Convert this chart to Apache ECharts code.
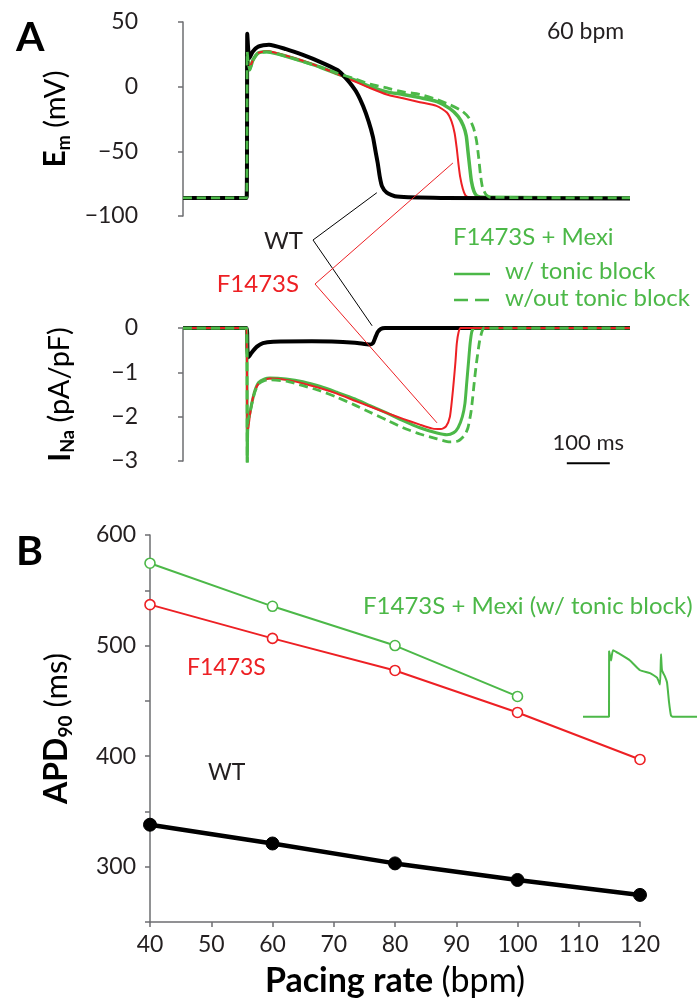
<!DOCTYPE html>
<html>
<head>
<meta charset="utf-8">
<script src="https://cdn.jsdelivr.net/npm/echarts/dist/echarts.min.js"></script>
<style>
  html, body { margin: 0; padding: 0; background: #fff; }
  #chart { width: 699px; height: 1002px; }
</style>
</head>
<body>
<div id="chart"></div>
<script>
// ---- Panel A: membrane potential traces, [time (ms), Em (mV)] at 60 bpm ----
const emWT = [[0,-86],[148,-86],[149.5,41],[151.5,30],[154,22],[162,27],[175,31],[200,32.5],[240,29],[279,24.5],[320,19],[358,13],[372,9],[388,3],[405,-5],[419,-15],[432,-27],[442,-39],[448,-50],[453,-59],[458,-70],[463,-77],[474,-82],[498,-85],[600,-86],[1040,-86.5]];
const emF1473S = [[0,-86],[148,-86],[149.5,27],[152,18],[155,15],[162,20],[175,26],[195,27.5],[240,24],[279,20],[320,15],[358,10],[400,4],[435,-1],[474,-6],[512,-9],[551,-12],[591,-15],[614,-20],[625,-27],[632,-36],[637,-48],[641,-60],[645,-70],[651,-79],[657,-84],[665,-85.5],[720,-86],[1040,-86]];
const emMexiTonic = [[0,-86],[148,-86],[149.5,27],[152,18],[155,13],[162,20],[175,26],[195,27],[240,23.5],[279,19.5],[320,15],[358,10],[400,5],[435,0],[474,-4],[512,-6],[551,-8.5],[591,-11.5],[621,-17],[640,-23],[652,-30],[659,-38],[663,-50],[667,-62],[671,-73],[677,-81],[684,-84.5],[700,-85.5],[1040,-86]];
const emMexiNoTonic = [[0,-86],[148,-86],[149.5,27],[152,18],[155,13],[162,20],[175,26],[195,27],[240,23.5],[279,19.5],[320,15],[358,10.5],[400,6],[435,2],[474,-1],[512,-4],[551,-6],[591,-10],[621,-14],[650,-19],[665,-24],[676,-32],[683,-42],[688,-55],[692,-68],[697,-78],[705,-83.5],[715,-85.5],[1040,-86]];

// ---- Panel A: sodium current traces, [time (ms), INa (pA/pF)] ----
const inaWT = [[0,0],[148,0],[150,-0.5],[152,-0.66],[160,-0.55],[172,-0.42],[186,-0.34],[210,-0.31],[300,-0.30],[400,-0.33],[435,-0.37],[442,-0.34],[448,-0.2],[453,-0.09],[460,-0.02],[470,0],[1040,0]];
const inaF1473S = [[0,0],[148,0],[149.5,-2.3],[152,-2.25],[156,-1.95],[162,-1.6],[170,-1.35],[180,-1.22],[202,-1.14],[240,-1.17],[279,-1.25],[320,-1.36],[358,-1.48],[400,-1.64],[435,-1.77],[475,-1.92],[512,-2.05],[551,-2.18],[581,-2.27],[600,-2.28],[612,-2.22],[621,-2.0],[626,-1.6],[630,-1.2],[634,-0.75],[637,-0.35],[641,-0.1],[646,0],[1040,0]];
const inaMexiTonic = [[0,0],[148,0],[149.5,-3.05],[151,-2.1],[155,-1.95],[160,-1.7],[167,-1.42],[176,-1.23],[190,-1.15],[202,-1.13],[240,-1.15],[279,-1.21],[320,-1.32],[358,-1.45],[400,-1.6],[435,-1.75],[475,-1.92],[512,-2.09],[551,-2.25],[591,-2.37],[614,-2.41],[630,-2.36],[640,-2.25],[650,-2.0],[656,-1.7],[660,-1.25],[664,-0.8],[668,-0.35],[672,-0.08],[677,0],[1040,0]];
const inaMexiNoTonic = [[0,0],[148,0],[149.5,-3.05],[151,-2.1],[155,-1.95],[160,-1.72],[167,-1.45],[176,-1.26],[190,-1.18],[202,-1.17],[240,-1.2],[279,-1.3],[320,-1.42],[358,-1.56],[400,-1.74],[435,-1.9],[475,-2.08],[512,-2.25],[551,-2.39],[591,-2.5],[621,-2.57],[640,-2.55],[655,-2.42],[663,-2.25],[670,-1.9],[674,-1.57],[679,-1.1],[684,-0.7],[690,-0.3],[695,-0.1],[700,0],[1040,0]];

// ---- Panel B: APD90 (ms) against pacing rate (bpm) ----
const pacingRates = [40, 60, 80, 100, 120];
const apdWT = [338, 321, 303, 288, 274.5];
const apdF1473S = [537, 506.5, 477.5, 439.5, 397];
const apdMexiTonic = [574.5, 535.5, 500, 454];

// Example action potential with early afterdepolarization, [time (ms), Em (mV)]
const insetTrace = [[0,-86],[208,-86],[209,28],[224,12],[240,30],[296,23],[376,12],[456,-5],[536,-10],[592,-18],[616,-30],[624,23],[632,-5],[656,-16],[672,-26],[688,-60],[704,-84],[720,-86],[912,-86]];

const emTicks = [-100, -50, 0, 50];
const inaTicks = [-3, -2, -1, 0];

const FONT = 'Lato';
const GREEN = '#4cb848';
const RED = '#ed2024';
const AXIS = '#6d6e71';
const TXT = '#231f20';

const chart = echarts.init(document.getElementById('chart'), null, { renderer: 'canvas' });

function trace(name, data, xi, color, width, dashed, z) {
  return {
    name, type: 'line', xAxisIndex: xi, yAxisIndex: xi, data,
    showSymbol: false, smooth: 0.2, z,
    lineStyle: { color, width, type: dashed ? [9, 5] : 'solid', cap: 'butt', join: 'round' },
    emphasis: { disabled: true }, animation: false
  };
}

function timeAxis(gi) {
  return { gridIndex: gi, type: 'value', min: 0, max: 1040, show: false };
}

const subRich = (big, small, plain) => ({
  b: { fontFamily: FONT, fontWeight: 'bold', fontSize: big, color: '#000', lineHeight: big + 6, verticalAlign: 'middle' },
  s: { fontFamily: FONT, fontWeight: 'bold', fontSize: small, color: '#000', lineHeight: big + 6, verticalAlign: 'bottom', padding: [0, 0, 1, 0] },
  r: { fontFamily: FONT, fontSize: plain, color: '#000', lineHeight: big + 6, verticalAlign: 'middle' }
});

function traceYAxis(gi, min, max, ticks, name) {
  return {
    gridIndex: gi, type: 'value', min, max, interval: ticks[1] - ticks[0], offset: 33,
    axisLine: { show: true, lineStyle: { color: AXIS, width: 1.5 } },
    axisTick: { show: true, inside: false, length: 5, lineStyle: { color: AXIS, width: 1.5 } },
    axisLabel: { fontFamily: FONT, fontSize: 23, color: TXT, margin: 12,
      formatter: v => (v < 0 ? '\u2212' + Math.abs(v) : String(v)) },
    splitLine: { show: false },
    name, nameLocation: 'middle', nameRotate: 90, nameGap: 72,
    nameTextStyle: { rich: subRich(30, 18, 29) }
  };
}

const option = {
  animation: false,
  backgroundColor: '#fff',
  grid: [
    { left: 183, top: 22, width: 447, height: 194 },
    { left: 183, top: 328, width: 447, height: 133 },
    { left: 150, top: 535, width: 490, height: 387 },
    { left: 583, top: 649, width: 114, height: 70 }
  ],
  xAxis: [
    timeAxis(0),
    timeAxis(1),
    {
      gridIndex: 2, type: 'value', min: 40, max: 120, interval: 10,
      axisLine: { lineStyle: { color: AXIS, width: 1.5 } },
      axisTick: { length: 5, lineStyle: { color: AXIS, width: 1.5 } },
      axisLabel: { fontFamily: FONT, fontSize: 23, color: TXT, margin: 11 },
      splitLine: { show: false },
      name: '{b|Pacing rate }{r|(bpm)}', nameLocation: 'middle', nameGap: 42,
      nameTextStyle: { rich: {
        b: { fontFamily: FONT, fontWeight: 'bold', fontSize: 34, color: '#000' },
        r: { fontFamily: FONT, fontSize: 34, color: '#000' }
      } }
    },
    { gridIndex: 3, type: 'value', min: 0, max: 912, show: false }
  ],
  yAxis: [
    traceYAxis(0, -100, 50, emTicks, '{b|E}{s|m}{r| (mV)}'),
    traceYAxis(1, -3, 0, inaTicks, '{b|I}{s|Na}{r| (pA/pF)}'),
    {
      gridIndex: 2, type: 'value', min: 250, max: 600, interval: 50,
      axisLine: { show: true, lineStyle: { color: AXIS, width: 1.5 } },
      axisTick: { length: 5, lineStyle: { color: AXIS, width: 1.5 } },
      axisLabel: { fontFamily: FONT, fontSize: 23, color: TXT, margin: 14,
        formatter: v => (v % 100 === 0 && v >= 300 ? String(v) : '') },
      splitLine: { show: false },
      name: '{b|APD}{s|90}{r| (ms)}', nameLocation: 'middle', nameRotate: 90, nameGap: 74,
      nameTextStyle: { rich: subRich(32, 19, 31) }
    },
    { gridIndex: 3, type: 'value', min: -90, max: 32, show: false }
  ],
  series: [
    // Em: drawing order keeps the dashed trace on top
    trace('Em F1473S + Mexi (tonic)', emMexiTonic, 0, GREEN, 3.5, false, 2),
    trace('Em F1473S', emF1473S, 0, RED, 2, false, 3),
    trace('Em WT', emWT, 0, '#000', 4, false, 4),
    trace('Em F1473S + Mexi (no tonic)', emMexiNoTonic, 0, GREEN, 2.8, true, 5),
    // INa
    trace('INa WT', inaWT, 1, '#000', 4, false, 2),
    trace('INa F1473S + Mexi (tonic)', inaMexiTonic, 1, GREEN, 3, false, 3),
    trace('INa F1473S', inaF1473S, 1, RED, 2, false, 4),
    trace('INa F1473S + Mexi (no tonic)', inaMexiNoTonic, 1, GREEN, 2.8, true, 5),
    // APD90 rate dependence
    {
      name: 'APD WT', type: 'line', xAxisIndex: 2, yAxisIndex: 2,
      data: pacingRates.map((r, i) => [r, apdWT[i]]),
      symbol: 'circle', symbolSize: 13, z: 4,
      lineStyle: { color: '#000', width: 4.5 },
      itemStyle: { color: '#000', borderColor: '#000', borderWidth: 1 }
    },
    {
      name: 'APD F1473S', type: 'line', xAxisIndex: 2, yAxisIndex: 2,
      data: pacingRates.map((r, i) => [r, apdF1473S[i]]),
      symbol: 'circle', symbolSize: 10, z: 3,
      lineStyle: { color: RED, width: 2 },
      itemStyle: { color: '#fff', borderColor: RED, borderWidth: 1.6 }
    },
    {
      name: 'APD F1473S + Mexi', type: 'line', xAxisIndex: 2, yAxisIndex: 2,
      data: apdMexiTonic.map((v, i) => [pacingRates[i], v]),
      symbol: 'circle', symbolSize: 10, z: 3,
      lineStyle: { color: GREEN, width: 2 },
      itemStyle: { color: '#fff', borderColor: GREEN, borderWidth: 1.6 }
    },
    {
      name: 'Inset AP', type: 'line', xAxisIndex: 3, yAxisIndex: 3, data: insetTrace,
      showSymbol: false, smooth: 0.15,
      lineStyle: { color: GREEN, width: 2 }
    }
  ]
};

chart.setOption(option);

// Annotation pointers, scale bar and text, placed after the axes exist
const px = (gi, p) => chart.convertToPixel({ gridIndex: gi }, p);
const wtVertex = [313, 240];
const mutVertex = [315, 284];
const wtEm = px(0, [451, -82]);
const wtIna = px(1, [440, 0.05]);
const mutEm = px(0, [628, -59]);
const mutIna = px(1, [591, -2.14]);
const barL = px(1, [893, -3.05]);
const barR = px(1, [993, -3.05]);

function line(a, b, color, width, dash) {
  return { type: 'line', silent: true, z: 10,
    shape: { x1: a[0], y1: a[1], x2: b[0], y2: b[1] },
    style: { stroke: color, lineWidth: width, lineDash: dash || null } };
}
function text(str, x, y, opts) {
  return { type: 'text', silent: true, z: 10, x, y,
    style: Object.assign({ text: str, fontFamily: FONT, fontSize: 24, fill: TXT,
      align: 'left', verticalAlign: 'middle' }, opts || {}) };
}

chart.setOption({
  graphic: [
    text('A', 16, 38, { fontSize: 41, fontWeight: 'bold', fill: '#000' }),
    text('B', 16, 552, { fontSize: 41, fontWeight: 'bold', fill: '#000' }),
    text('60 bpm', 547, 32, { fontSize: 23 }),
    line(wtVertex, wtEm, '#000', 1),
    line(wtVertex, wtIna, '#000', 1),
    line(mutVertex, mutEm, RED, 1),
    line(mutVertex, mutIna, RED, 1),
    text('WT', 303, 241, { align: 'right' }),
    text('F1473S', 299, 284, { align: 'right', fill: RED }),
    text('F1473S + Mexi', 453, 237, { fill: GREEN }),
    line([454, 274], [490, 274], GREEN, 2.5),
    text('w/ tonic block', 505, 271, { fill: GREEN }),
    line([454, 300], [490, 300], GREEN, 2.5, [14, 7]),
    text('w/out tonic block', 505, 298, { fill: GREEN }),
    line(barL, barR, '#000', 2),
    text('100 ms', (barL[0] + barR[0]) / 2, 443, { align: 'center', fontSize: 22 }),
    text('F1473S + Mexi (w/ tonic block)', 363, 606, { fill: GREEN, fontSize: 24 }),
    text('F1473S', 187, 668, { fill: RED, fontSize: 23 }),
    text('WT', 208, 773, { fontSize: 23 })
  ]
});
</script>
</body>
</html>
